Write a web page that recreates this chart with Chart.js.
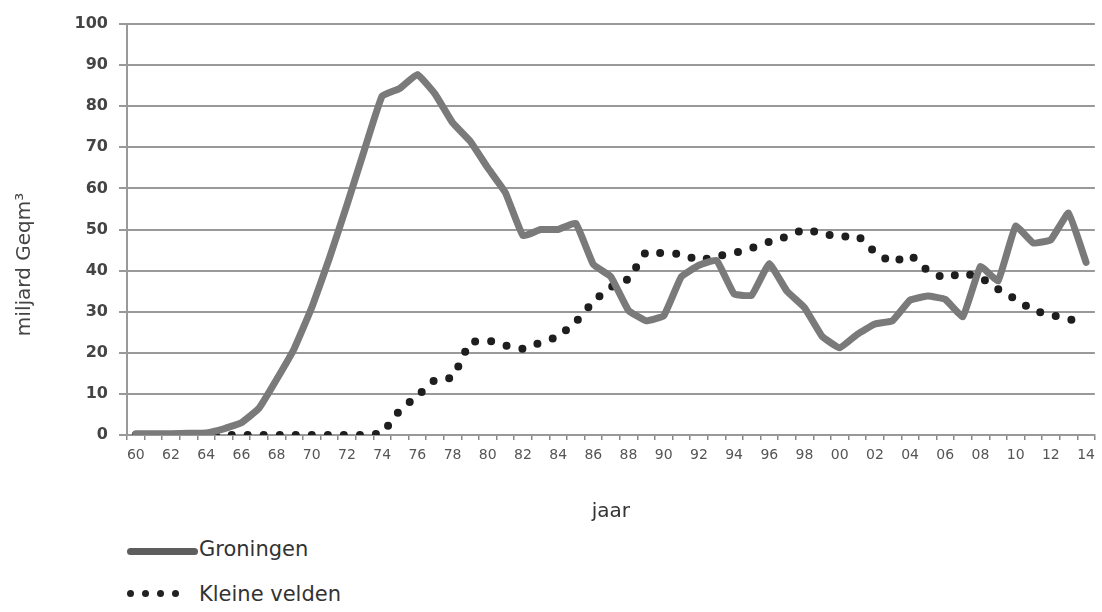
<!DOCTYPE html>
<html>
<head>
<meta charset="utf-8">
<script src="https://cdn.jsdelivr.net/npm/chart.js@4/dist/chart.umd.min.js"></script>
<style>
  body { margin: 0; background: #fff; }
  #wrap { position: relative; width: 1102px; height: 612px; font-family: "DejaVu Sans", sans-serif; }
  .lg { position: absolute; left: 199px; font-size: 21px; color: #333; line-height: 24px; }
  .line { position: absolute; left: 127px; width: 71px; height: 7px; border-radius: 4px; background: #5e5e5e; }
  .dot { position: absolute; width: 7px; height: 7px; border-radius: 50%; background: #222; }
</style>
</head>
<body>
<div id="wrap">
  <canvas id="myChart" width="1102" height="530"></canvas>
  <div class="line" style="top:548px"></div>
  <div class="lg" style="top:537px">Groningen</div>
  <div class="dot" style="left:127px; top:590px"></div>
  <div class="dot" style="left:142px; top:590px"></div>
  <div class="dot" style="left:157px; top:590px"></div>
  <div class="dot" style="left:172px; top:590px"></div>
  <div class="lg" style="top:582px">Kleine velden</div>
</div>
<script>
const years = ["60","61","62","63","64","65","66","67","68","69",
  "70","71","72","73","74","75","76","77","78","79",
  "80","81","82","83","84","85","86","87","88","89",
  "90","91","92","93","94","95","96","97","98","99",
  "00","01","02","03","04","05","06","07","08","09",
  "10","11","12","13","14"];

const groningen = [0.3, 0.3, 0.3, 0.4, 0.5, 1.5, 3, 6.5, 13.5, 21,
  31, 43, 56, 69.5, 82.5, 84.3, 87.7, 83, 76, 71.5,
  65, 59, 48.5, 50, 50, 51.5, 41.5, 38.5, 30.3, 27.8,
  29, 38.5, 41.3, 42.5, 34.3, 34, 41.7, 35, 31, 24,
  21.2, 24.5, 27, 27.8, 32.8, 33.8, 33, 28.8, 41, 37.5,
  50.8, 46.7, 47.5, 54, 42];

const kleineVelden = [0, 0, 0, 0, 0, 0, 0, 0, 0, 0,
  0, 0, 0, 0, 0.5, 6, 9.5, 13.4, 14, 22.5,
  23, 21.8, 21, 22.5, 24, 27.5, 32.5, 36, 38, 44.5,
  44.2, 44, 42.5, 43.5, 44.3, 45.5, 47, 48.3, 50, 49,
  48.2, 48.5, 44.5, 42, 43.8, 40, 38.2, 39.4, 38.3, 35.5,
  33, 30.4, 29.2, 28.3, 26.8];

const yTicks = { min: 0, max: 100, step: 10 };

const font = "'DejaVu Sans', sans-serif";

new Chart(document.getElementById("myChart"), {
  type: "line",
  data: {
    labels: years,
    datasets: [
      {
        label: "Groningen",
        data: groningen,
        borderColor: "#7a7a7a",
        borderWidth: 7,
        pointRadius: 0,
        tension: 0.1,
        borderJoinStyle: "round",
        borderCapStyle: "round",
      },
      {
        label: "Kleine velden",
        data: kleineVelden,
        borderColor: "#1e1e1e",
        borderWidth: 8,
        borderDash: [0, 16],
        borderCapStyle: "round",
        pointRadius: 0,
        tension: 0.1,
      },
    ],
  },
  options: {
    responsive: false,
    devicePixelRatio: 1,
    animation: false,
    layout: { padding: { left: 0, right: 4, top: 24, bottom: 0 } },
    plugins: { legend: { display: false }, tooltip: { enabled: false } },
    scales: {
      x: {
        offset: true,
        grid: { offset: true, drawOnChartArea: false, tickLength: 5, color: "#888", lineWidth: 1.5 },
        border: { display: true, color: "#999", width: 2 },
        ticks: {
          autoSkip: false,
          maxRotation: 0,
          padding: 7,
          color: "#555",
          font: { family: font, size: 14 },
          callback: (v, i) => (i % 2 === 0 ? years[i] : ""),
        },
        title: {
          display: true,
          text: "jaar",
          color: "#333",
          font: { family: font, size: 20 },
          padding: { top: 0, bottom: 6 },
        },
        afterFit: (s) => { s.height = 95; },
      },
      y: {
        min: yTicks.min,
        max: yTicks.max,
        ticks: {
          stepSize: yTicks.step,
          padding: 11,
          color: "#444",
          font: { family: font, size: 16, weight: "bold" },
        },
        grid: { color: "#999", lineWidth: 2, tickLength: 8 },
        border: { color: "#999", width: 2 },
        title: {
          display: true,
          // trailing spaces push the label down, as in the original
          text: "miljard Geqm³           ",
          color: "#444",
          font: { family: font, size: 20 },
          padding: { top: 13 },
        },
        afterFit: (s) => { s.width = 127; },
      },
    },
  },
});
</script>
</body>
</html>
